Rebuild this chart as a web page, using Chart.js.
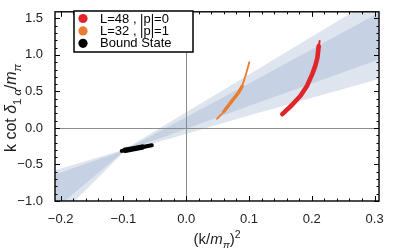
<!DOCTYPE html>
<html>
<head>
<meta charset="utf-8">
<script src="https://cdn.jsdelivr.net/npm/chart.js@4.4.1/dist/chart.umd.min.js"></script>
<style>
  body { margin: 0; background: #fff; }
  #chart { display: block; }
</style>
</head>
<body>
<canvas id="chart" width="399" height="248"></canvas>
<script>
// tick values
var xTicks = [-0.2, -0.1, 0.0, 0.1, 0.2, 0.3];
var yTicks = [-1.0, -0.5, 0.0, 0.5, 1.0, 1.5];

// error bands (edges)
var bandX = [-0.21, -0.0995, 0.1, 0.31];
var outerHi = [-0.58, -0.30, 0.73, 1.82];
var outerLo = [-1.28, -0.33, 0.17, 0.676];
var innerHi = [-0.64, -0.307, 0.61, 1.59];
var innerLo = [-1.12, -0.321, 0.30, 0.947];

// L=48, |p|=0
var redX = [0.153, 0.168, 0.182, 0.192, 0.2008, 0.2055, 0.2088, 0.211];
var redY = [0.19, 0.31, 0.44, 0.57, 0.74, 0.85, 0.956, 1.12];
var redTailX = [0.211, 0.2125];
var redTailY = [1.12, 1.19];

// L=32, |p|=1
var orangeX = [0.06, 0.072, 0.083, 0.089];
var orangeY = [0.224, 0.36, 0.48, 0.57];
var orangeThinX = [0.049, 0.06];
var orangeThinY = [0.125, 0.224];
var orangeTailX = [0.089, 0.095, 0.1004];
var orangeTailY = [0.57, 0.73, 0.90];

// bound state
var blackX = [-0.1027, -0.09, -0.075, -0.0548];
var blackY = [-0.314, -0.295, -0.27, -0.237];
var blackCoreX = [-0.097, -0.085, -0.07];
var blackCoreY = [-0.305, -0.287, -0.262];

var legendLabels = ["L=48 , |p|=0", "L=32 , |p|=1", "Bound State"];

var RED = "#e0262a";
var ORANGE = "#e97c30";
var BLACK = "#000000";
var LIGHT = "#dfe5ef";
var DARK = "#c6d2e3";

function pts(xs, ys) {
    return xs.map(function (x, i) { return { x: x, y: ys[i] }; });
}

function curve(xs, ys, color, width, order) {
    return {
        data: pts(xs, ys),
        showLine: true,
        borderColor: color,
        borderWidth: width,
        borderCapStyle: "round",
        borderJoinStyle: "round",
        pointRadius: 0,
        fill: false,
        order: order
    };
}

function band(ys, fillTo, color, order) {
    return {
        data: pts(bandX, ys),
        showLine: true,
        borderColor: "transparent",
        borderWidth: 0,
        pointRadius: 0,
        fill: fillTo,
        backgroundColor: color,
        order: order
    };
}

function fmt(v) {
    return (v < 0 ? "\u2212" : "") + Math.abs(v).toFixed(1);
}

// rich text: parts {t, it, sub, sup}
function richWidth(ctx, parts, size) {
    var w = 0;
    parts.forEach(function (p) {
        var s = (p.sub || p.sup) ? size * 0.7 : size;
        ctx.font = (p.it ? "italic " : "") + s + "px 'Liberation Sans', Arial, sans-serif";
        w += ctx.measureText(p.t).width;
    });
    return w;
}

function drawRich(ctx, parts, x, y, size) {
    parts.forEach(function (p) {
        var s = (p.sub || p.sup) ? size * 0.7 : size;
        ctx.font = (p.it ? "italic " : "") + s + "px 'Liberation Sans', Arial, sans-serif";
        var dy = p.sub ? size * 0.3 : (p.sup ? -size * 0.4 : 0);
        ctx.fillText(p.t, x, y + dy);
        x += ctx.measureText(p.t).width;
    });
}

var decor = {
    id: "decor",
    afterDatasetsDraw: function (chart) {
        var ctx = chart.ctx;
        var a = chart.chartArea;
        var xs = chart.scales.x;
        var ys = chart.scales.y;
        ctx.save();

        // zero lines
        ctx.strokeStyle = "#8c8c8c";
        ctx.lineWidth = 1;
        ctx.beginPath();
        var x0 = Math.round(xs.getPixelForValue(0)) + 0.5;
        var y0 = Math.round(ys.getPixelForValue(0)) + 0.5;
        ctx.moveTo(x0, a.top); ctx.lineTo(x0, a.bottom);
        ctx.moveTo(a.left, y0); ctx.lineTo(a.right, y0);
        ctx.stroke();

        // inward ticks on all sides
        ctx.strokeStyle = "#000";
        ctx.lineWidth = 1;
        ctx.beginPath();
        var i, v, p, len;
        for (i = -10; i <= 15; i++) {
            v = i * 0.02;
            if (v < xs.min - 1e-9 || v > xs.max + 1e-9) continue;
            p = Math.round(xs.getPixelForValue(v)) + 0.5;
            len = (i % 5 === 0) ? 5 : 2.5;
            ctx.moveTo(p, a.bottom); ctx.lineTo(p, a.bottom - len);
            ctx.moveTo(p, a.top); ctx.lineTo(p, a.top + len);
        }
        for (i = -10; i <= 15; i++) {
            v = i * 0.1;
            if (v < ys.min - 1e-9 || v > ys.max + 1e-9) continue;
            p = Math.round(ys.getPixelForValue(v)) + 0.5;
            len = (i % 5 === 0) ? 5 : 2.5;
            ctx.moveTo(a.left, p); ctx.lineTo(a.left + len, p);
            ctx.moveTo(a.right, p); ctx.lineTo(a.right - len, p);
        }
        ctx.stroke();

        // frame
        ctx.lineWidth = 1.4;
        ctx.strokeRect(a.left, a.top, a.right - a.left, a.bottom - a.top);

        // legend
        ctx.fillStyle = "#fff";
        ctx.fillRect(74, 11, 119, 41);
        ctx.lineWidth = 1.5;
        ctx.strokeRect(74, 11, 119, 41);
        var cols = [RED, ORANGE, BLACK];
        ctx.font = "13px 'Liberation Sans', Arial, sans-serif";
        ctx.textBaseline = "middle";
        ctx.textAlign = "left";
        legendLabels.forEach(function (lab, k) {
            var yy = 18.5 + k * 12.4;
            ctx.fillStyle = cols[k];
            ctx.beginPath();
            ctx.arc(83, yy, 4.6, 0, Math.PI * 2);
            ctx.fill();
            ctx.fillStyle = "#000";
            ctx.fillText(lab, 100, yy + 0.5);
        });

        // axis titles
        ctx.fillStyle = "#222";
        ctx.textBaseline = "alphabetic";
        var xt = [
            { t: "(k/" }, { t: "m", it: true }, { t: "\u03c0", it: true, sub: true },
            { t: ")" }, { t: "2", sup: true }
        ];
        var w = richWidth(ctx, xt, 15);
        drawRich(ctx, xt, (a.left + a.right) / 2 - w / 2, 244, 15);

        var yt = [
            { t: "k cot " }, { t: "\u03b4", it: true }, { t: "1 ", sub: true },
            { t: "\u03b1", it: true, sub: true }, { t: "/" }, { t: "m", it: true },
            { t: "\u03c0", it: true, sub: true }
        ];
        w = richWidth(ctx, yt, 16);
        ctx.translate(16, 108);
        ctx.rotate(-Math.PI / 2);
        drawRich(ctx, yt, -w / 2, 0, 16);
        ctx.restore();
    }
};

var tickFont = { family: "'Liberation Sans', Arial, sans-serif", size: 13 };

new Chart(document.getElementById("chart").getContext("2d"), {
    type: "scatter",
    data: {
        datasets: [
            band(outerHi, "+1", LIGHT, 10),
            band(outerLo, false, LIGHT, 10),
            band(innerHi, "+1", DARK, 5),
            band(innerLo, false, DARK, 5),
            curve(redX, redY, RED, 4.6, 0),
            curve(redTailX, redTailY, RED, 2, 0),
            curve(orangeThinX, orangeThinY, ORANGE, 1.8, 0),
            curve(orangeX, orangeY, ORANGE, 3.4, 0),
            curve(orangeTailX, orangeTailY, ORANGE, 1.8, 0),
            curve(blackX, blackY, BLACK, 4, 0),
            curve(blackCoreX, blackCoreY, BLACK, 5.4, 0)
        ]
    },
    options: {
        responsive: false,
        animation: false,
        layout: { padding: { top: 1, right: 20, left: 0, bottom: 0 } },
        plugins: {
            legend: { display: false },
            tooltip: { enabled: false }
        },
        scales: {
            x: {
                type: "linear",
                min: -0.209,
                max: 0.307,
                afterBuildTicks: function (s) { s.ticks = xTicks.map(function (v) { return { value: v }; }); },
                afterFit: function (s) { s.height = 47; },
                grid: { display: false },
                border: { display: false },
                ticks: { color: "#222", font: tickFont, padding: 3, maxRotation: 0, callback: fmt }
            },
            y: {
                type: "linear",
                min: -1.0,
                max: 1.59,
                afterBuildTicks: function (s) { s.ticks = yTicks.map(function (v) { return { value: v }; }); },
                afterFit: function (s) { s.width = 55; },
                grid: { display: false },
                border: { display: false },
                ticks: { color: "#222", font: tickFont, padding: 4, callback: fmt }
            }
        }
    },
    plugins: [decor]
});
</script>
</body>
</html>
